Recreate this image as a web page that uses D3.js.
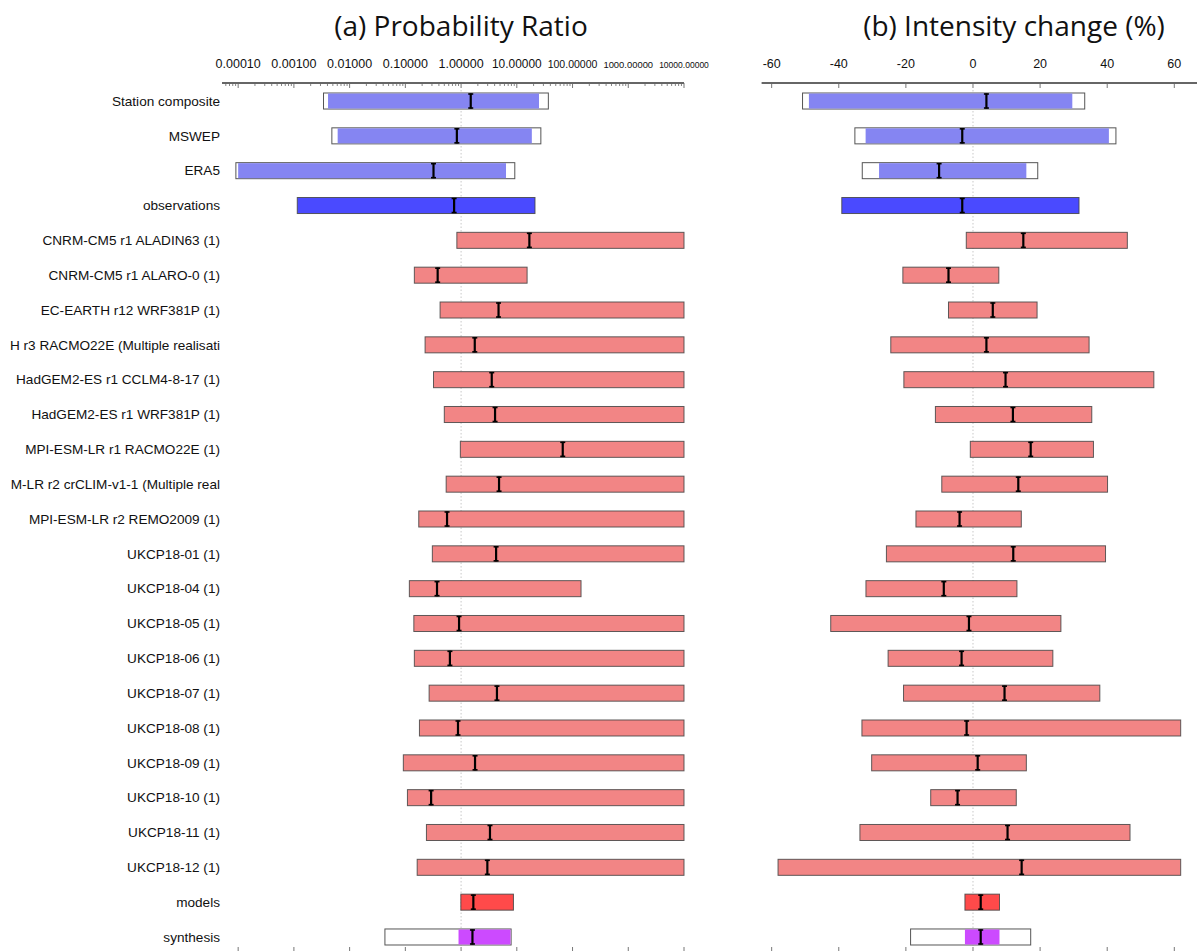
<!DOCTYPE html>
<html><head><meta charset="utf-8">
<script src="https://cdn.jsdelivr.net/npm/d3@7"></script>
<style>body{margin:0;background:#fff}svg{display:block}</style>
</head><body><svg id="c" width="1197" height="951"></svg>
<script>
const labels = ["Station composite","MSWEP","ERA5","observations",
"CNRM-CM5 r1 ALADIN63 (1)","CNRM-CM5 r1 ALARO-0 (1)","EC-EARTH r12 WRF381P (1)",
"H r3 RACMO22E (Multiple realisati","HadGEM2-ES r1 CCLM4-8-17 (1)","HadGEM2-ES r1 WRF381P (1)",
"MPI-ESM-LR r1 RACMO22E (1)","M-LR r2 crCLIM-v1-1 (Multiple real","MPI-ESM-LR r2 REMO2009 (1)",
"UKCP18-01 (1)","UKCP18-04 (1)","UKCP18-05 (1)","UKCP18-06 (1)","UKCP18-07 (1)","UKCP18-08 (1)",
"UKCP18-09 (1)","UKCP18-10 (1)","UKCP18-11 (1)","UKCP18-12 (1)","models","synthesis"];
const kinds = ["obs","obs","obs","obsAgg","model","model","model","model","model","model","model","model","model",
"model","model","model","model","model","model","model","model","model","model","modelAgg","synth"];

// Probability ratio: best estimate, inner CI, outer CI (outer only for obs / synthesis)
const prBest = [1.49,0.84,0.32,0.75,16.8,0.38,4.7,1.76,3.55,4.07,66.7,4.8,0.56,4.25,0.37,0.92,0.63,4.4,0.88,1.78,0.29,3.3,2.96,1.66,1.6];
const prLo   = [0.0041,0.0061,0.0001,0.00115,0.84,0.145,0.42,0.226,0.32,0.50,0.97,0.54,0.174,0.305,0.118,0.142,0.145,0.267,0.179,0.092,0.109,0.239,0.163,0.99,0.90];
const prHi   = [25,18.6,6.4,21.2,10000,15.3,10000,10000,10000,10000,10000,10000,10000,10000,142,10000,10000,10000,10000,10000,10000,10000,10000,8.7,7.7];
const prOutLo = [0.0034,0.0048,0.000091,null,null,null,null,null,null,null,null,null,null,null,null,null,null,null,null,null,null,null,null,null,0.043];
const prOutHi = [36.8,27,9.2,null,null,null,null,null,null,null,null,null,null,null,null,null,null,null,null,null,null,null,null,null,7.9];

// Intensity change (%)
const icBest = [4.0,-3.2,-10.1,-3.2,15.0,-7.3,5.9,4.0,9.7,11.9,17.2,13.5,-4.0,12.0,-8.7,-1.2,-3.4,9.4,-1.9,1.4,-4.6,10.3,14.5,2.3,2.3];
const icLo   = [-48.9,-32.0,-28.0,-39.1,-2.0,-20.9,-7.3,-24.5,-20.6,-11.2,-0.8,-9.3,-17.0,-25.8,-31.9,-42.4,-25.3,-20.7,-33.1,-30.2,-12.6,-33.7,-58.1,-2.4,-2.4];
const icHi   = [29.6,40.5,15.9,31.6,46.0,7.7,19.1,34.6,53.9,35.4,35.9,40.1,14.4,39.5,13.1,26.2,23.8,37.8,61.9,15.9,12.9,46.8,61.9,7.9,7.9];
const icOutLo = [-50.8,-35.2,-33.0,null,null,null,null,null,null,null,null,null,null,null,null,null,null,null,null,null,null,null,null,null,-18.6];
const icOutHi = [33.3,42.6,19.3,null,null,null,null,null,null,null,null,null,null,null,null,null,null,null,null,null,null,null,null,null,17.2];

const prTicks = [0.0001,0.001,0.01,0.1,1,10,100,1000,10000];
const icTicks = [-60,-40,-20,0,20,40,60];

const colors = {obs:"#8585f2", obsAgg:"#4a4aff", model:"#f28585", modelAgg:"#ff4a4a", synth:"#cc4aff"};

const svg = d3.select("#c");
const font = "'Liberation Sans', Arial, sans-serif";

const y = d3.scaleBand().domain(d3.range(labels.length)).range([83.6, 954.4]).paddingInner(0.54).paddingOuter(0.27);
const xL = d3.scaleLog().domain([Math.pow(10,-4.29), 10000]).range([222, 684]);
const xR = d3.scaleLinear().domain([-63, 67]).range([761.6, 1197.8]);

// titles
svg.append("text").attr("x",461).attr("y",36).attr("text-anchor","middle")
  .style("font-family","'Open Sans','Noto Sans',sans-serif").style("font-size","28px").attr("fill","#111")
  .text("(a) Probability Ratio");
svg.append("text").attr("x",1014).attr("y",36).attr("text-anchor","middle")
  .style("font-family","'Open Sans','Noto Sans',sans-serif").style("font-size","28px").attr("fill","#111")
  .text("(b) Intensity change (%)");

// top axes
const fmt5 = d => d3.format(".5f")(d);
const gL = svg.append("g").attr("transform","translate(0,83)");
gL.append("line").attr("x1",222).attr("x2",684).attr("stroke","#333").attr("stroke-width",1.3);
const minor = [];
for (let e=-5; e<4; e++) for (let m=2; m<10; m++) { const v=m*Math.pow(10,e); if (v>=xL.domain()[0] && v<=10000) minor.push(v); }
gL.selectAll(".mn").data(minor).join("line").attr("x1",d=>xL(d)).attr("x2",d=>xL(d)).attr("y1",0).attr("y2",3).attr("stroke","#666").attr("stroke-width",0.8);
gL.selectAll(".mj").data(prTicks).join("line").attr("x1",d=>xL(d)).attr("x2",d=>xL(d)).attr("y1",0).attr("y2",5).attr("stroke","#666").attr("stroke-width",0.9);
const step = xL(10) - xL(1);
svg.append("g").selectAll("text").data(prTicks).join("text")
  .attr("x",d=>xL(d)).attr("y",68).attr("text-anchor","middle").style("font-family",font).style("font-size","12.5px").attr("fill","#111")
  .text(fmt5)
  .each(function(){
    const w = this.getComputedTextLength();
    const maxW = step - 6;
    if (w > maxW) d3.select(this).style("font-size", (12.5 * maxW / w).toFixed(2) + "px");
  });

const gR = svg.append("g").attr("transform","translate(0,83)");
gR.append("line").attr("x1",761.6).attr("x2",1197).attr("stroke","#333").attr("stroke-width",1.3);
gR.selectAll(".mj").data(icTicks).join("line").attr("x1",d=>xR(d)).attr("x2",d=>xR(d)).attr("y1",0).attr("y2",5).attr("stroke","#666").attr("stroke-width",0.9);
svg.append("g").selectAll("text").data(icTicks).join("text")
  .attr("x",d=>xR(d)).attr("y",68).attr("text-anchor","middle").style("font-family",font).style("font-size","12.5px").attr("fill","#111").text(d=>d);

// bottom ticks
svg.append("g").selectAll("line").data(prTicks).join("line").attr("x1",d=>xL(d)).attr("x2",d=>xL(d)).attr("y1",947).attr("y2",951).attr("stroke","#777");
svg.append("g").selectAll("line").data(icTicks).join("line").attr("x1",d=>xR(d)).attr("x2",d=>xR(d)).attr("y1",947).attr("y2",951).attr("stroke","#777");

// reference dotted lines
svg.append("line").attr("x1",xL(1)).attr("x2",xL(1)).attr("y1",90).attr("y2",951).attr("stroke","#bbb").attr("stroke-dasharray","1.5,2").attr("stroke-width",0.8);
svg.append("line").attr("x1",xR(0)).attr("x2",xR(0)).attr("y1",90).attr("y2",951).attr("stroke","#bbb").attr("stroke-dasharray","1.5,2").attr("stroke-width",0.8);

// row labels
svg.append("g").selectAll("text").data(labels).join("text")
  .attr("x",220).attr("y",(d,i)=>y(i)+y.bandwidth()/2).attr("dy","0.35em").attr("text-anchor","end")
  .style("font-family",font).style("font-size","13.6px").attr("fill","#111").text(d=>d);

function panel(x, best, lo, hi, olo, ohi) {
  const g = svg.append("g");
  const bw = y.bandwidth();
  labels.forEach((lab,i) => {
    const top = y(i);
    if (olo[i] !== null) {
      g.append("rect").attr("x",x(olo[i])).attr("y",top).attr("width",x(ohi[i])-x(olo[i])).attr("height",bw)
        .attr("fill","#fff").attr("stroke","#555").attr("stroke-width",1);
      g.append("rect").attr("x",x(lo[i])).attr("y",top+0.5).attr("width",x(hi[i])-x(lo[i])).attr("height",bw-1)
        .attr("fill",colors[kinds[i]]);
    } else {
      g.append("rect").attr("x",x(lo[i])).attr("y",top).attr("width",x(hi[i])-x(lo[i])).attr("height",bw)
        .attr("fill",colors[kinds[i]]).attr("stroke","#444").attr("stroke-opacity",0.85).attr("stroke-width",1);
    }
    const bx = x(best[i]);
    g.append("line").attr("x1",bx).attr("x2",bx).attr("y1",top+0.5).attr("y2",top+bw-0.5).attr("stroke","#000").attr("stroke-width",2.2);
    g.append("line").attr("x1",bx-2.5).attr("x2",bx+2.5).attr("y1",top+1).attr("y2",top+1).attr("stroke","#000").attr("stroke-width",1.6);
    g.append("line").attr("x1",bx-2.5).attr("x2",bx+2.5).attr("y1",top+bw-1).attr("y2",top+bw-1).attr("stroke","#000").attr("stroke-width",1.6);
  });
}
panel(xL, prBest, prLo, prHi, prOutLo, prOutHi);
panel(xR, icBest, icLo, icHi, icOutLo, icOutHi);
</script></body></html>
